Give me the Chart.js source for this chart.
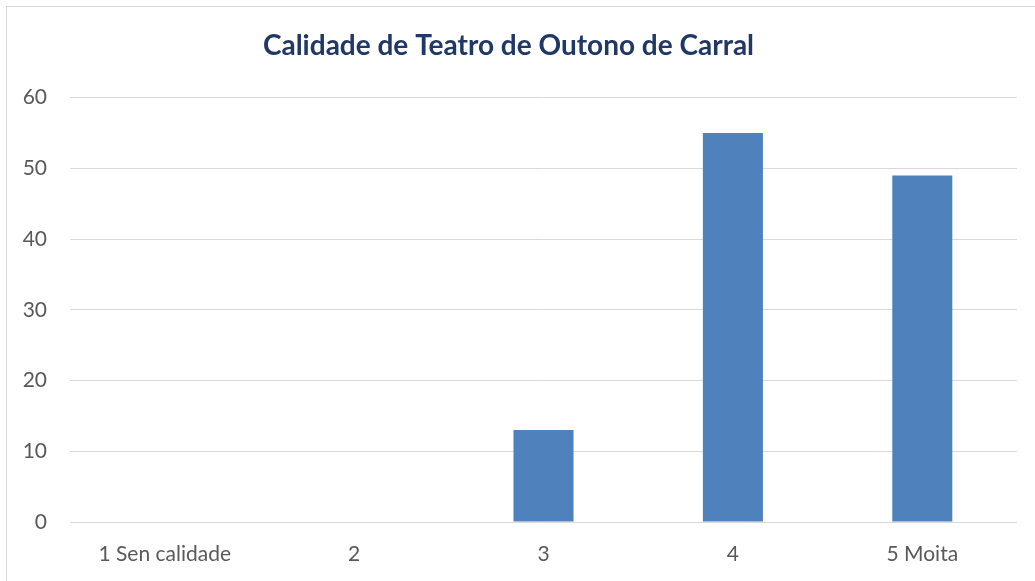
<!DOCTYPE html>
<html>
<head>
<meta charset="utf-8">
<script src="https://cdn.jsdelivr.net/npm/chart.js@4"></script>
<style>
  html, body { margin: 0; padding: 0; background: #fff; overflow: hidden; }
  #wrap { position: relative; width: 1035px; height: 581px; overflow: hidden; }
  #frame { position: absolute; left: 6px; top: 6px; width: 1100px; height: 700px; border: 1px solid #D9D9D9; }
  canvas { position: absolute; left: 0; top: 0; }
</style>
</head>
<body>
<div id="wrap">
  <div id="frame"></div>
  <canvas id="chart" width="1035" height="581"></canvas>
</div>
<script>
const categories = ['1 Sen calidade', '2', '3', '4', '5 Moita'];
const values = [0, 0, 13, 55, 49];
const yTicks = [0, 10, 20, 30, 40, 50, 60];

const fontFamily = 'Lato, "Open Sans", sans-serif';

new Chart(document.getElementById('chart').getContext('2d'), {
  type: 'bar',
  data: {
    labels: categories,
    datasets: [{
      data: values,
      backgroundColor: '#4F81BD',
      borderWidth: 0,
      categoryPercentage: 1,
      barPercentage: 0.317
    }]
  },
  options: {
    responsive: false,
    animation: false,
    layout: { padding: { left: 0, right: 18, top: 0, bottom: 0 } },
    plugins: {
      legend: { display: false },
      tooltip: { enabled: false },
      title: {
        display: true,
        text: 'Calidade de Teatro de Outono de Carral',
        color: '#203864',
        font: { family: fontFamily, size: 28, weight: 'bold' },
        padding: { top: 29, bottom: 35 }
      }
    },
    scales: {
      x: {
        grid: { display: false, drawTicks: false },
        border: { display: false },
        ticks: { color: '#595959', font: { family: fontFamily, size: 21 }, padding: 20, maxRotation: 0 },
        afterFit: (scale) => { scale.height = 59; }
      },
      y: {
        min: 0,
        max: 60,
        afterBuildTicks: (scale) => { scale.ticks = yTicks.map(v => ({ value: v })); },
        grid: { color: '#D9D9D9', lineWidth: 1, drawTicks: false },
        border: { display: false },
        ticks: { color: '#595959', font: { family: fontFamily, size: 21 }, padding: 23 },
        afterFit: (scale) => { scale.width = 70; }
      }
    }
  }
});
</script>
</body>
</html>
